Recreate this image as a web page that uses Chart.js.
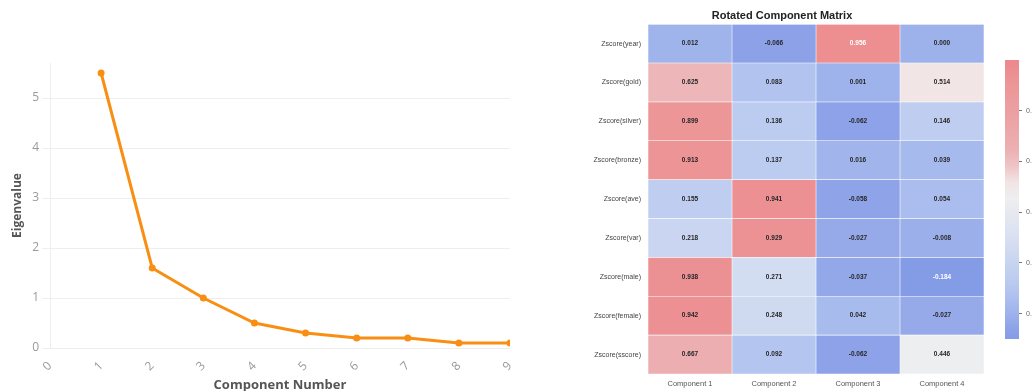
<!DOCTYPE html>
<html>
<head>
<meta charset="utf-8">
<script src="https://cdn.jsdelivr.net/npm/chart.js@4.4.1/dist/chart.umd.min.js"></script>
<style>
  html, body { margin: 0; padding: 0; background: #fff; overflow: hidden; width: 1032px; height: 391px; }
  canvas { position: absolute; display: block; }
  #scree { left: 0; top: 0; }
  #matrix { left: 580px; top: 0; }
  #cbar { left: 990px; top: 0; }
</style>
</head>
<body>
<canvas id="scree" width="525" height="397"></canvas>
<canvas id="matrix" width="410" height="391"></canvas>
<canvas id="cbar" width="42" height="391"></canvas>
<script>
// Scree plot data
const componentNumbers = [1, 2, 3, 4, 5, 6, 7, 8, 9];
const eigenvalues = [5.5, 1.6, 1.0, 0.5, 0.3, 0.2, 0.2, 0.1, 0.1];

// Rotated component matrix (loadings per component, one value per variable)
const variableLabels = ['Zscore(year)', 'Zscore(gold)', 'Zscore(silver)', 'Zscore(bronze)', 'Zscore(ave)',
                        'Zscore(var)', 'Zscore(male)', 'Zscore(female)', 'Zscore(sscore)'];
const componentLabels = ['Component 1', 'Component 2', 'Component 3', 'Component 4'];
const component1 = [0.012, 0.625, 0.899, 0.913, 0.155, 0.218, 0.938, 0.942, 0.667];
const component2 = [-0.066, 0.083, 0.136, 0.137, 0.941, 0.929, 0.271, 0.248, 0.092];
const component3 = [0.956, 0.001, -0.062, 0.016, -0.058, -0.027, -0.037, 0.042, -0.062];
const component4 = [0.000, 0.514, 0.146, 0.039, 0.054, -0.008, -0.184, -0.027, 0.446];

// Colour scale range and colour bar ticks
const colorMin = -0.1;
const colorMax = 1.0;
const colorbarTicks = [0.0, 0.2, 0.4, 0.6, 0.8];

// Soft diverging blue-white-red palette
const paletteStops = [
  [0.00, [132, 155, 230]],
  [0.04, [142, 163, 232]],
  [0.10, [160, 180, 236]],
  [0.17, [179, 196, 239]],
  [0.23, [191, 206, 240]],
  [0.34, [212, 221, 241]],
  [0.50, [238, 238, 240]],
  [0.56, [242, 229, 229]],
  [0.62, [239, 196, 198]],
  [0.68, [236, 176, 179]],
  [0.80, [236, 161, 163]],
  [0.91, [236, 150, 152]],
  [1.00, [237, 136, 139]]
];

function paletteAt(f) {
  f = Math.max(0, Math.min(1, f));
  for (let i = 1; i < paletteStops.length; i++) {
    const [f1, c1] = paletteStops[i];
    const [f0, c0] = paletteStops[i - 1];
    if (f <= f1) {
      const t = (f - f0) / (f1 - f0);
      const c = c0.map((v, k) => Math.round(v + (c1[k] - v) * t));
      return `rgb(${c[0]},${c[1]},${c[2]})`;
    }
  }
  const c = paletteStops[paletteStops.length - 1][1];
  return `rgb(${c[0]},${c[1]},${c[2]})`;
}
const fraction = v => (v - colorMin) / (colorMax - colorMin);
const colorFor = v => paletteAt(fraction(v));

// ---------- Scree plot ----------
const greyTick = '#9a9a9a';
new Chart(document.getElementById('scree'), {
  type: 'line',
  data: {
    datasets: [{
      data: componentNumbers.map((x, i) => ({ x, y: eigenvalues[i] })),
      borderColor: '#f88f14',
      backgroundColor: '#f88f14',
      borderWidth: 3,
      pointRadius: 2,
      pointHoverRadius: 2,
      tension: 0
    }]
  },
  options: {
    responsive: false,
    animation: false,
    layout: { padding: { top: 63, right: 15, left: 0, bottom: 0 } },
    plugins: { legend: { display: false }, tooltip: { enabled: false } },
    scales: {
      x: {
        type: 'linear', min: 0, max: 9,
        ticks: { stepSize: 1, minRotation: 45, maxRotation: 45, color: greyTick,
                 font: { family: 'Open Sans', size: 12 } },
        grid: { display: false },
        border: { display: false },
        title: { display: true, text: 'Component Number', color: '#555',
                 font: { family: 'Open Sans', size: 13, weight: 'bold' }, padding: { top: 4, bottom: 4 } },
        afterFit(s) { s.height = 49; }
      },
      y: {
        min: 0, max: 5.7,
        ticks: { stepSize: 1, includeBounds: false, color: greyTick, font: { family: 'Open Sans', size: 12 } },
        grid: { color: '#eeeeee', tickLength: 8 },
        border: { display: true, color: '#eeeeee' },
        title: { display: true, text: 'Eigenvalue', color: '#555',
                 font: { family: 'Open Sans', size: 12, weight: 'bold' }, padding: { top: 10, bottom: 4 } },
        afterFit(s) { s.width = 50; }
      }
    }
  }
});

// ---------- Rotated component matrix ----------
const loadings = [component1, component2, component3, component4];

const cellValueLabels = {
  id: 'cellValueLabels',
  afterDatasetsDraw(chart) {
    const ctx = chart.ctx;
    chart.data.datasets.forEach((ds, di) => {
      chart.getDatasetMeta(di).data.forEach((bar, i) => {
        const v = ds.loadings[i];
        const f = fraction(v);
        ctx.save();
        ctx.font = 'bold 6.5px "Liberation Sans", Arial, sans-serif';
        ctx.fillStyle = (f >= 0.955 || f <= 0) ? '#ffffff' : '#262626';
        ctx.textAlign = 'center';
        ctx.textBaseline = 'middle';
        ctx.fillText(v.toFixed(3), (bar.x + bar.base) / 2, bar.y);
        ctx.restore();
      });
    });
  }
};

new Chart(document.getElementById('matrix'), {
  type: 'bar',
  data: {
    labels: variableLabels,
    datasets: loadings.map((vals, c) => ({
      label: componentLabels[c],
      loadings: vals,
      data: vals.map(() => [c, c + 1]),
      backgroundColor: vals.map(colorFor),
      borderColor: 'rgba(255,255,255,0.6)',
      borderWidth: 0.6,
      borderSkipped: false,
      barPercentage: 1,
      categoryPercentage: 1,
      grouped: false
    }))
  },
  options: {
    indexAxis: 'y',
    responsive: false,
    animation: false,
    layout: { padding: { top: 0, right: 6, left: 0, bottom: 0 } },
    plugins: {
      legend: { display: false },
      tooltip: { enabled: false },
      title: {
        display: true, text: 'Rotated Component Matrix', color: '#222',
        font: { family: 'Liberation Sans', size: 11, weight: 'bold' },
        padding: { top: 9, bottom: 2 }
      }
    },
    scales: {
      x: {
        type: 'linear', min: 0, max: componentLabels.length,
        afterBuildTicks(s) { s.ticks = componentLabels.map((_, i) => ({ value: i + 0.5 })); },
        ticks: { autoSkip: false, maxRotation: 0, color: '#555', padding: 5,
                 font: { family: 'Liberation Sans', size: 7.5 },
                 callback: v => componentLabels[Math.floor(v)] },
        grid: { display: false, drawTicks: false, tickLength: 0 },
        border: { display: false },
        afterFit(s) { s.height = 17; }
      },
      y: {
        ticks: { color: '#444', padding: 7, font: { family: 'Liberation Sans', size: 7 } },
        grid: { display: false, drawTicks: false, tickLength: 0 },
        border: { display: false },
        afterFit(s) { s.width = 68; }
      }
    }
  },
  plugins: [cellValueLabels]
});

// ---------- Colour bar ----------
new Chart(document.getElementById('cbar'), {
  type: 'bar',
  data: {
    labels: [''],
    datasets: [{
      data: [[colorMin, colorMax]],
      backgroundColor(context) {
        const area = context.chart.chartArea;
        if (!area) return paletteAt(0.5);
        const g = context.chart.ctx.createLinearGradient(0, area.bottom, 0, area.top);
        paletteStops.forEach(([f]) => g.addColorStop(f, paletteAt(f)));
        return g;
      },
      borderWidth: 0,
      barPercentage: 1,
      categoryPercentage: 1
    }]
  },
  options: {
    responsive: false,
    animation: false,
    layout: { padding: { top: 60, left: 15, bottom: 52, right: 0 } },
    plugins: { legend: { display: false }, tooltip: { enabled: false } },
    scales: {
      x: { display: false },
      y: {
        position: 'right', min: colorMin, max: colorMax,
        afterBuildTicks(s) { s.ticks = colorbarTicks.map(v => ({ value: v })); },
        ticks: { color: '#666', padding: 4, font: { family: 'Liberation Sans', size: 7 },
                 callback: v => v.toFixed(1) },
        grid: { drawOnChartArea: false, tickLength: 3, color: '#777' },
        border: { display: false },
        afterFit(s) { s.width = 13; }
      }
    }
  }
});
</script>
</body>
</html>
